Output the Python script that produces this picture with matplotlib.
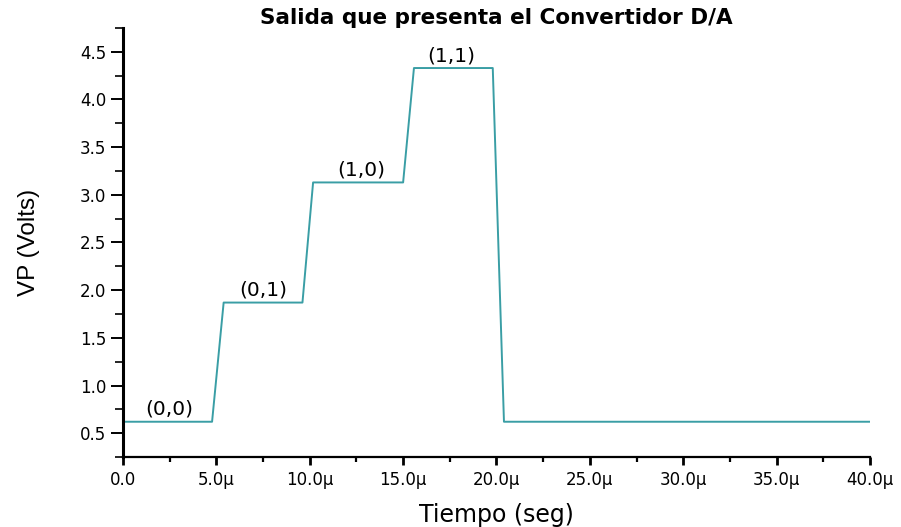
import numpy as np
import matplotlib
matplotlib.use('Agg')
import matplotlib.pyplot as plt
from matplotlib.ticker import MultipleLocator, FuncFormatter

# tiempo en microsegundos, tension en volts
t_us = [0.0, 4.77, 5.39, 9.61, 10.18, 15.0, 15.58, 19.8, 20.4, 40.0]
vp = [0.62, 0.62, 1.87, 1.87, 3.13, 3.13, 4.33, 4.33, 0.62, 0.62]

estados = ['(0,0)', '(0,1)', '(1,0)', '(1,1)']
estado_x = [2.5, 7.5, 12.75, 17.6]
estado_v = [0.62, 1.87, 3.13, 4.33]

plt.rcParams['font.family'] = ['DejaVu Sans']

fig = plt.figure(figsize=(9.01, 5.27), dpi=100)
ax = fig.add_axes([0.1365, 0.1328, 0.8291, 0.8141])

ax.plot(t_us, vp, color='#3a9ea5', lw=1.4)

for lab, x, v in zip(estados, estado_x, estado_v):
    ax.annotate(lab, (x, v), xytext=(0, 2), textcoords='offset points',
                ha='center', va='bottom', fontsize=14.5)

ax.set_xlim(0, 40)
ax.set_ylim(0.25, 4.75)
ax.xaxis.set_major_locator(MultipleLocator(5))
ax.xaxis.set_minor_locator(MultipleLocator(2.5))
ax.yaxis.set_major_locator(MultipleLocator(0.5))
ax.yaxis.set_minor_locator(MultipleLocator(0.25))

def fmt_us(x, pos):
    if x == 0:
        return '0.0'
    return '%.1fµ' % x

ax.xaxis.set_major_formatter(FuncFormatter(fmt_us))
ax.yaxis.set_major_formatter(FuncFormatter(lambda y, p: '%.1f' % y))

ax.spines['top'].set_visible(False)
ax.spines['right'].set_visible(False)
ax.spines['left'].set_linewidth(2.2)
ax.spines['bottom'].set_linewidth(1.6)
ax.tick_params(axis='y', which='major', length=9, width=1.4, labelsize=12, pad=3)
ax.tick_params(axis='y', which='minor', length=5.5, width=1.2)
ax.tick_params(axis='x', which='major', length=6, width=2.0, labelsize=12, pad=4)
ax.tick_params(axis='x', which='minor', length=3.5, width=1.6)

ax.set_title('Salida que presenta el Convertidor D/A', fontsize=15.5,
             fontweight='bold', pad=2)
ax.set_xlabel('Tiempo (seg)', fontsize=17, labelpad=10)
ax.set_ylabel('VP (Volts)', fontsize=17.5, family='Liberation Sans', labelpad=29)

fig.savefig('out.png', dpi=100)
